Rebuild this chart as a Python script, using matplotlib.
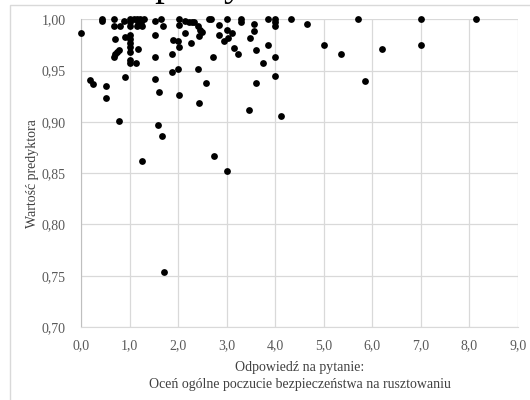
import matplotlib.pyplot as plt
from matplotlib.patches import Rectangle

# answers to the question (x) and predictor value (y)
odpowiedz = [
    0.00, 0.19, 0.24, 0.43, 0.43, 0.52, 0.52, 0.68, 0.68, 0.68, 0.71, 0.74, 0.78,
    0.71, 0.78, 0.80, 0.88, 0.90, 0.90,
    1.00, 1.00, 1.00, 1.00, 1.00, 1.00, 1.00, 1.00, 1.00, 1.00,
    1.10, 1.16, 1.17, 1.16, 1.22, 1.24, 1.25, 1.29, 1.14, 1.18, 1.25,
    1.52, 1.64, 1.69, 1.52, 1.52, 1.52, 1.60, 1.59, 1.66, 1.71,
    1.90, 1.88, 1.87,
    2.02, 2.02, 2.00, 2.02, 2.00, 2.02,
    2.14, 2.14, 2.22, 2.28, 2.33, 2.40, 2.45, 2.50, 2.42, 2.26,
    2.64, 2.68, 2.85, 2.84, 2.95, 3.00, 3.00, 3.02,
    3.12, 3.16, 3.24, 3.30, 3.30,
    2.72, 2.40, 2.57, 2.44, 2.74, 3.00, 3.45,
    3.56, 3.56, 3.49, 3.61, 3.60, 3.74,
    3.85, 4.00, 4.00, 4.00, 3.85, 4.00, 4.00,
    4.12, 4.32, 4.65, 5.00, 5.36, 5.71, 5.85, 6.20, 7.00, 7.00, 8.14,
]
predyktor = [
    0.987, 0.941, 0.937, 1.000, 0.998, 0.935, 0.923, 1.000, 0.993, 0.963, 0.966, 0.968, 0.970,
    0.981, 0.901, 0.993, 0.998, 0.983, 0.944,
    1.000, 0.997, 0.993, 0.985, 0.981, 0.977, 0.973, 0.968, 0.960, 0.957,
    1.000, 1.000, 0.997, 0.993, 1.000, 0.997, 0.993, 1.000, 0.957, 0.971, 0.862,
    0.998, 1.000, 0.993, 0.985, 0.963, 0.942, 0.929, 0.897, 0.886, 0.754,
    0.980, 0.966, 0.949,
    1.000, 0.994, 0.979, 0.973, 0.952, 0.926,
    0.987, 0.998, 0.997, 0.997, 0.997, 0.993, 0.990, 0.988, 0.984, 0.977,
    1.000, 1.000, 0.994, 0.985, 0.979, 1.000, 0.990, 0.982,
    0.987, 0.972, 0.966, 1.000, 0.997,
    0.963, 0.952, 0.938, 0.918, 0.867, 0.852, 0.912,
    0.995, 0.989, 0.982, 0.970, 0.938, 0.957,
    1.000, 1.000, 0.997, 0.993, 0.975, 0.963, 0.945,
    0.906, 1.000, 0.995, 0.975, 0.966, 1.000, 0.940, 0.971, 1.000, 0.975, 1.000,
]

x_ticks = [0, 1, 2, 3, 4, 5, 6, 7, 8, 9]
y_ticks = [0.70, 0.75, 0.80, 0.85, 0.90, 0.95, 1.00]

serif = ["Liberation Serif", "DejaVu Serif"]
grey_txt = "#595959"

fig = plt.figure(figsize=(5.3, 4.0), dpi=100)
fig.patch.set_facecolor("white")

# chart area border (cut off on the right and bottom like the source)
fig.patches.append(Rectangle((10 / 530, -0.05), 1.1, 1 - 5 / 400 + 0.05,
                             transform=fig.transFigure, fill=False,
                             edgecolor="#D9D9D9", linewidth=1.0))

# title, mostly above the visible area
fig.text(19 / 530, 1 + 4.5 / 400, "Wartość predyktora", family=serif,
         fontsize=28, va="baseline", ha="left", color="black")

ax = fig.add_axes([81 / 530, 1 - 327 / 400, (518 - 81) / 530, (327 - 19.3) / 400])
ax.scatter(odpowiedz, predyktor, s=24, color="black", zorder=3, clip_on=False,
           linewidths=0)

ax.set_xlim(0, 9)
ax.set_ylim(0.70, 1.00)
ax.set_xticks(x_ticks)
ax.set_yticks(y_ticks)
ax.set_xticklabels([f"{v:.1f}".replace(".", ",") for v in x_ticks],
                   family=serif, fontsize=10, color=grey_txt)
ax.set_yticklabels([f"{v:.2f}".replace(".", ",") for v in y_ticks],
                   family=serif, fontsize=10, color=grey_txt)
ax.tick_params(length=0)
ax.tick_params(axis="x", pad=9)
ax.tick_params(axis="y", pad=11)

ax.grid(True, color="#D9D9D9", linewidth=0.9)
ax.set_axisbelow(True)
ax.spines[["top", "right"]].set_visible(False)
ax.spines["left"].set_color("#BFBFBF")
ax.spines["bottom"].set_color("#D9D9D9")

ax.set_ylabel("Wartość predyktora", family=serif, fontsize=10, color="#404040")
ax.yaxis.set_label_coords(-0.095, 0.5)
ax.set_xlabel("Odpowiedź na pytanie:\nOceń ogólne poczucie bezpieczeństwa na rusztowaniu",
              family=serif, fontsize=10, color="#404040", labelpad=6,
              linespacing=1.45)

fig.savefig("out.png", dpi=100, facecolor=fig.get_facecolor())
